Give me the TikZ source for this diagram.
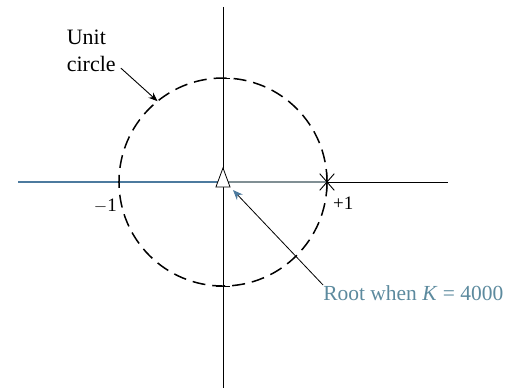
\documentclass[tikz,border=0pt]{standalone}
\usepackage{fontspec}
\setmainfont{Liberation Serif}
\usetikzlibrary{arrows.meta,positioning,calc}
\definecolor{locusblue}{rgb}{0.30,0.48,0.62}
\definecolor{locusgrey}{rgb}{0.50,0.56,0.58}
\definecolor{notecol}{rgb}{0.36,0.54,0.62}
\begin{document}
\begin{tikzpicture}[
  x=3.66cm, y=3.66cm,
  >={Stealth[length=9pt, width=7pt]},
  axis/.style={line width=0.9pt},
  locus/.style={line width=2pt, locusblue},
  unitc/.style={line width=1.5pt, dash pattern=on 13pt off 7pt},
  lbl/.style={inner sep=0pt, font=\fontsize{22}{27}\selectfont, align=left},
  num/.style={inner sep=0pt, font=\fontsize{19}{21}\selectfont},
  arr/.style={->, line width=0.9pt}
]
\useasboundingbox (-2.144,-1.990) rectangle (2.721,1.750);

% axes and locus
\draw[axis] (-1.97,0) -- (2.163,0);
\draw[axis] (0,1.683) -- (0,-1.98);
\draw[locus] (-1.97,0) -- (0,0);
\draw[locus, locusgrey] (0,0) -- (1,0);
\draw[unitc] (0,0) circle (1);
\draw[axis] (-0.072,1) -- (0.072,1);
\draw[axis] (-0.072,-1) -- (0.072,-1);

% pole and zero
\draw[line width=0.9pt] (1,0) +(-0.07,-0.08) -- +(0.07,0.08)
  (1,0) +(-0.07,0.08) -- +(0.07,-0.08)
  (1,0) +(0,-0.09) -- +(0,0.09);
\draw[line width=0.8pt, fill=white] (-0.068,-0.048) -- (0.068,-0.048) -- (0,0.135) -- cycle;
\coordinate (rootpt) at (0.096,-0.077);
\coordinate (ucpt) at (129:1);

% labels
\node[lbl, anchor=north west] (uc) at (-1.503,1.462) {Unit\\circle};
\node[num, anchor=base east] (m1) at (-1.019,-0.288) {$-$1};
\node[num, anchor=base west] (p1) at (1.058,-0.269) {+1};
\node[lbl, anchor=north west, text=notecol, font=\fontsize{21.5}{26}\selectfont] (note) at (0.962,-0.990) {Root when \textit{K} = 4000};

\draw[arr] ([shift={(5pt,4pt)}]uc.south east) -- (ucpt);
\draw[line width=0.8pt, -{Stealth[locusblue, length=10pt, width=8pt]}] (note.north west) -- (rootpt);
\end{tikzpicture}
\end{document}
